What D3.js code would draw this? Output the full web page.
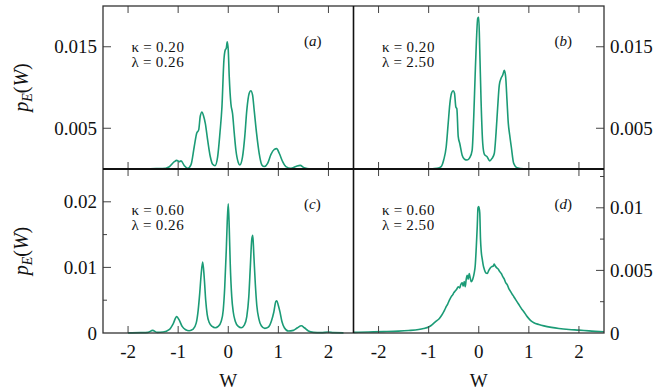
<!DOCTYPE html>
<html><head><meta charset="utf-8">
<script src="https://cdn.jsdelivr.net/npm/d3@7"></script>
<style>
text, tspan { font-family: 'Liberation Serif', 'Times New Roman', serif !important; }
</style>
</head>
<body style="margin:0;background:#fff">
<svg id="c" width="659" height="390" font-family="Liberation Serif"></svg>
<script>
// ---- data (p values in units of 1e-3) ----
const xTicks = [-2, -1, 0, 1, 2];
const xTickLabels = ["-2", "-1", "0", "1", "2"];

const wA = [-1.71,-1.58,-1.44,-1.31,-1.175,-1.076,-1.03,-0.976,-0.943,-0.876,-0.81,-0.745,-0.68,-0.63,-0.59,-0.558,-0.524,-0.497,-0.458,-0.41,-0.358,-0.311,-0.265,-0.212,-0.166,-0.126,-0.086,-0.06,-0.04,-0.02,0.0,0.02,0.053,0.086,0.12,0.153,0.2,0.23,0.285,0.33,0.37,0.418,0.45,0.485,0.518,0.565,0.618,0.671,0.72,0.786,0.853,0.92,0.966,1.02,1.086,1.15,1.25,1.35,1.435,1.515,1.65];
const pA = [0,0.03,0.05,0.04,0.28,0.9,1.06,0.9,1.0,0.4,0.08,0.5,2.7,4.4,4.8,6.5,7.0,6.6,5.6,3.5,1.5,0.57,0.4,1.5,4.4,7.6,13.4,14.6,14.8,15.6,14.6,11.3,8.0,6.8,4.4,2.3,0.8,0.5,1.5,4.0,7.2,9.3,9.6,9.1,7.2,4.4,1.9,0.5,0.3,0.7,1.8,2.4,2.5,1.9,0.9,0.3,0.1,0.3,0.45,0.15,0];

const wB = [-0.96,-0.83,-0.75,-0.7,-0.65,-0.61,-0.577,-0.544,-0.51,-0.484,-0.457,-0.437,-0.41,-0.378,-0.331,-0.285,-0.232,-0.179,-0.132,-0.1,-0.073,-0.046,-0.02,0.0,0.02,0.046,0.08,0.113,0.166,0.22,0.265,0.31,0.345,0.378,0.41,0.444,0.477,0.51,0.537,0.564,0.59,0.617,0.65,0.697,0.763,0.896,1.1,1.4];
const pB = [0,0.08,0.3,1.1,2.7,5.6,8.0,9.3,9.6,9.3,7.6,7.4,4.0,3.1,1.7,1.2,1.1,1.4,2.3,6.4,11.3,15.8,18.5,18.6,14.6,8.4,3.1,1.8,1.5,1.0,1.3,1.9,4.4,7.6,10.3,11.1,11.5,12.1,11.3,8.4,5.6,4.2,2.7,0.7,0.16,0.03,0.02,0];

const wC = [-2.0,-1.75,-1.6,-1.51,-1.42,-1.3,-1.18,-1.1,-1.03,-0.98,-0.92,-0.85,-0.78,-0.7,-0.64,-0.6,-0.57,-0.54,-0.51,-0.48,-0.45,-0.42,-0.38,-0.32,-0.26,-0.2,-0.14,-0.1,-0.07,-0.04,-0.02,0.0,0.02,0.04,0.07,0.1,0.14,0.2,0.26,0.32,0.37,0.41,0.44,0.47,0.49,0.51,0.54,0.57,0.61,0.66,0.73,0.8,0.86,0.91,0.95,0.97,1.0,1.03,1.07,1.12,1.2,1.3,1.38,1.46,1.52,1.6,1.7,1.85,2.0,2.1,2.3];
const pC = [0.02,0.05,0.1,0.4,0.1,0.15,0.5,1.4,2.5,2.0,1.0,0.5,0.35,0.6,1.5,3.5,6.0,9.0,10.8,8.5,5.0,2.8,1.6,1.0,0.8,1.0,1.8,3.5,7.0,12.5,17.0,19.7,16.0,10.5,5.5,3.2,1.8,1.0,0.8,1.2,2.5,5.5,10.0,14.3,14.9,12.0,7.5,4.2,2.2,1.1,0.7,0.9,1.8,3.2,4.8,4.9,4.2,3.3,1.8,0.8,0.3,0.4,0.8,1.1,0.8,0.3,0.1,0.05,0.15,0.05,0.02];

const wD = [-2.5,-2.2,-1.9,-1.6,-1.4,-1.2,-1.1,-1.0,-0.95,-0.9,-0.85,-0.8,-0.76,-0.72,-0.68,-0.65,-0.62,-0.6,-0.57,-0.54,-0.52,-0.5,-0.47,-0.44,-0.41,-0.38,-0.36,-0.33,-0.31,-0.29,-0.27,-0.25,-0.23,-0.21,-0.19,-0.17,-0.15,-0.12,-0.09,-0.07,-0.05,-0.03,-0.015,0.0,0.02,0.035,0.05,0.07,0.09,0.11,0.14,0.17,0.2,0.23,0.26,0.29,0.31,0.33,0.36,0.39,0.42,0.45,0.48,0.51,0.54,0.57,0.6,0.63,0.66,0.7,0.74,0.78,0.82,0.86,0.9,0.95,1.0,1.05,1.1,1.2,1.3,1.45,1.6,1.8,2.0,2.2,2.5];
const pD = [0.05,0.08,0.11,0.15,0.2,0.28,0.36,0.48,0.6,0.77,0.95,1.1,1.3,1.55,1.85,2.1,2.3,2.5,2.75,2.95,3.05,3.2,3.35,3.5,3.7,3.6,3.85,4.0,3.75,4.1,3.7,4.3,4.6,4.3,4.75,4.4,4.1,4.3,4.8,5.4,6.8,8.5,10.0,10.1,9.6,7.5,6.5,5.9,5.4,5.1,4.8,4.75,5.0,5.2,5.3,5.35,5.5,5.35,5.2,5.1,4.9,4.75,4.5,4.3,4.0,3.85,3.55,3.35,3.15,2.9,2.65,2.4,2.15,1.9,1.7,1.4,1.15,0.95,0.82,0.68,0.57,0.45,0.36,0.28,0.23,0.17,0.1];

const yTicksTop = [5, 15];            const yLabelsTop = ["0.005", "0.015"];
const yTicksC = [5, 10, 15, 20];      const yLabelsC = ["", "0.01", "", "0.02"];
const yTicksD = [2.5, 5, 7.5, 10, 12.5]; const yLabelsD = ["", "0.005", "", "0.01", ""];

const kappas = ["0.20", "0.20", "0.60", "0.60"];
const lambdas = ["0.26", "2.50", "0.26", "2.50"];
const tags = ["a", "b", "c", "d"];

// ---- layout ----
const X0 = 103, XM = 353.5, X1 = 604;
const Y0 = 6, YM = 169, Y1 = 333;
const lineColor = "#1b9b76";
const svg = d3.select("#c");
const txt = sel => sel.append("text").attr("font-family", "Liberation Serif").attr("fill", "#111");

const panels = [
  {w: wA, p: pA, x: [X0, XM], y: [YM, Y0], ymax: 20,   side: "left",  ticks: yTicksTop, labels: yLabelsTop, zero: false},
  {w: wB, p: pB, x: [XM, X1], y: [YM, Y0], ymax: 20,   side: "right", ticks: yTicksTop, labels: yLabelsTop, zero: false},
  {w: wC, p: pC, x: [X0, XM], y: [Y1, YM], ymax: 25,   side: "left",  ticks: yTicksC,   labels: yLabelsC,   zero: true},
  {w: wD, p: pD, x: [XM, X1], y: [Y1, YM], ymax: 13.1, side: "right", ticks: yTicksD,   labels: yLabelsD,   zero: true}
];

panels.forEach((P, i) => {
  const xs = d3.scaleLinear().domain([-2.5, 2.5]).range(P.x);
  const ys = d3.scaleLinear().domain([0, P.ymax]).range(P.y);
  const g = svg.append("g");

  const pts = P.w.map((w, k) => [w, P.p[k]]);
  g.append("path").datum(pts)
    .attr("d", d3.line().x(d => xs(d[0])).y(d => ys(d[1])).curve(d3.curveMonotoneX))
    .attr("fill", "none").attr("stroke", lineColor).attr("stroke-width", 1.6);

  const tickCol = "#444";
  xTicks.forEach(t => {
    g.append("line").attr("x1", xs(t)).attr("x2", xs(t)).attr("y1", P.y[0]).attr("y2", P.y[0] - 7)
      .attr("stroke", tickCol).attr("stroke-width", 1);
    g.append("line").attr("x1", xs(t)).attr("x2", xs(t)).attr("y1", P.y[1]).attr("y2", P.y[1] + 7)
      .attr("stroke", tickCol).attr("stroke-width", 1);
  });
  if (i >= 2) {
    xTicks.forEach((t, k) => {
      txt(svg).attr("x", xs(t)).attr("y", 358).attr("text-anchor", "middle")
        .attr("font-size", 19).text(xTickLabels[k]);
    });
    txt(svg).attr("x", xs(0)).attr("y", 387).attr("text-anchor", "middle")
      .attr("font-size", 19).text("W");
  }

  const edge = P.side === "left" ? P.x[0] : P.x[1];
  const dir = P.side === "left" ? 1 : -1;
  P.ticks.forEach((t, k) => {
    const major = P.labels[k] !== "";
    g.append("line").attr("x1", edge).attr("x2", edge + dir * (major ? 8 : 4))
      .attr("y1", ys(t)).attr("y2", ys(t)).attr("stroke", tickCol).attr("stroke-width", 1);
    if (major) {
      txt(svg).attr("x", edge - dir * 6).attr("y", ys(t) + 6.5)
        .attr("text-anchor", P.side === "left" ? "end" : "start")
        .attr("font-size", 19).text(P.labels[k]);
    }
  });
  if (P.zero) {
    txt(svg).attr("x", edge - dir * 6).attr("y", ys(0) + 6.5)
      .attr("text-anchor", P.side === "left" ? "end" : "start")
      .attr("font-size", 19).text("0");
  }

  const ax = P.x[0] + 28.5, ay = P.y[1] + 45.5;
  const ann = txt(svg).attr("font-size", 15).attr("letter-spacing", 0.6);
  ann.append("tspan").attr("x", ax).attr("y", ay).text("κ\u2009=\u2009" + kappas[i]);
  ann.append("tspan").attr("x", ax).attr("y", ay + 15).text("λ\u2009=\u2009" + lambdas[i]);
  const tg = txt(svg).attr("x", P.x[0] + 201).attr("y", P.y[1] + 39.5).attr("font-size", 15);
  tg.append("tspan").text("(");
  tg.append("tspan").attr("font-style", "italic").text(tags[i]);
  tg.append("tspan").text(")");
});

svg.append("rect").attr("x", X0).attr("y", Y0).attr("width", X1 - X0).attr("height", Y1 - Y0)
  .attr("fill", "none").attr("stroke", "#333").attr("stroke-width", 1.3);
svg.append("line").attr("x1", X0).attr("x2", X1).attr("y1", YM).attr("y2", YM).attr("stroke", "#111").attr("stroke-width", 2);
svg.append("line").attr("x1", XM).attr("x2", XM).attr("y1", Y0).attr("y2", Y1).attr("stroke", "#111").attr("stroke-width", 1.6);

[ (Y0 + YM) / 2, (YM + Y1) / 2 ].forEach(cy => {
  const t = txt(svg).attr("transform", `translate(28,${cy}) rotate(-90)`)
    .attr("text-anchor", "middle").attr("font-size", 20);
  t.append("tspan").attr("font-style", "italic").text("p");
  t.append("tspan").attr("font-style", "italic").attr("font-size", 14).attr("dy", 4).text("E");
  t.append("tspan").attr("dy", -4).text("(");
  t.append("tspan").attr("font-style", "italic").text("W");
  t.append("tspan").text(")");
});
</script></body></html>
